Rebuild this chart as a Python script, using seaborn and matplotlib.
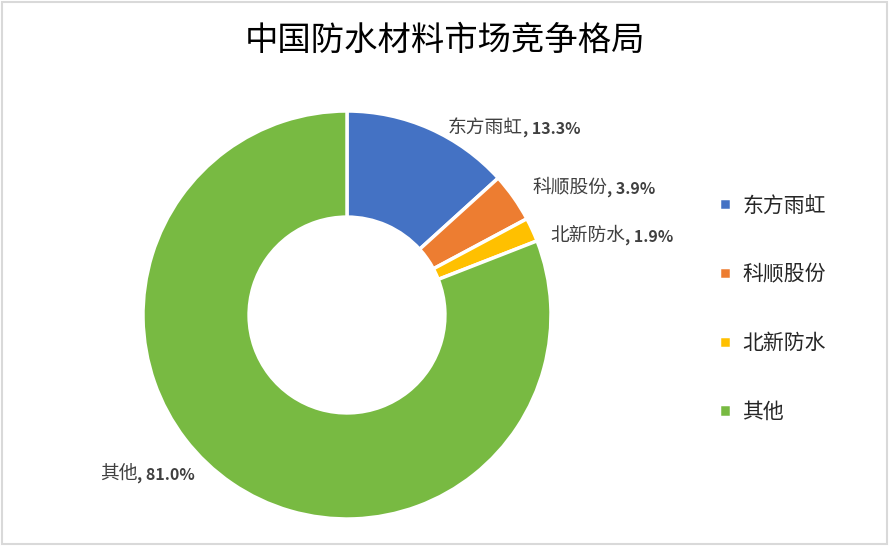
import matplotlib.pyplot as plt
import matplotlib.patches as mpatches
import seaborn as sns

# データ
companies = ['东方雨虹', '科顺股份', '北新防水', '其他']
shares = [13.3, 3.9, 1.9, 81.0]
colors = ['#4472C4', '#ED7D31', '#FFC000', '#78BA42']

# ラベル位置（円の半径=1 の座標）
label_pos = [(0.495, 0.922), (0.907, 0.627), (0.995, 0.392), (-1.211, -0.775)]

sns.set_theme(style='white')
plt.rcParams['font.family'] = ['Noto Sans CJK SC', 'DejaVu Sans']

fig = plt.figure(figsize=(8.9, 5.46), dpi=100)
ax = fig.add_axes([0, 0, 1, 1])

palette = sns.color_palette(colors)
wedges, _ = ax.pie(shares, colors=palette, startangle=90, counterclock=False,
                   radius=1.0, wedgeprops=dict(width=0.52, edgecolor='white', linewidth=2.5))

# 円の中心を画像の (347, 315) に合わせる
ax.set_xlim(-347 / 204, (890 - 347) / 204)
ax.set_ylim(-231 / 204, (546 - 231) / 204)
ax.set_aspect('auto')
ax.axis('off')

# データラベル
for name, val, (x, y) in zip(companies, shares, label_pos):
    t = ax.text(x, y, name, fontsize=13.5, color='#404040', ha='left', va='center')
    ax.annotate(f', {val:.1f}%', xy=(1, 0.02), xycoords=t, ha='left', va='bottom',
                fontsize=11.5, fontweight='bold', color='#404040')

# タイトル
fig.text(0.5, 1 - 40 / 546, '中国防水材料市场竞争格局', ha='center', va='center',
         fontsize=24, color='#000000')

# 凡例
leg = fig.legend(wedges, companies, loc='upper left', bbox_to_anchor=(709 / 890, 1 - 184 / 546),
                 frameon=False, fontsize=15, handlelength=0.55, handleheight=0.55,
                 handletextpad=0.55, labelspacing=2.25, borderpad=0)
for txt in leg.get_texts():
    txt.set_color('#262626')

# 枠線
fig.patches.append(mpatches.Rectangle((0.002, 0.004), 0.995, 0.993, transform=fig.transFigure,
                                      fill=False, edgecolor='#D9D9D9', linewidth=1.5))

fig.savefig('out.png', dpi=100)
